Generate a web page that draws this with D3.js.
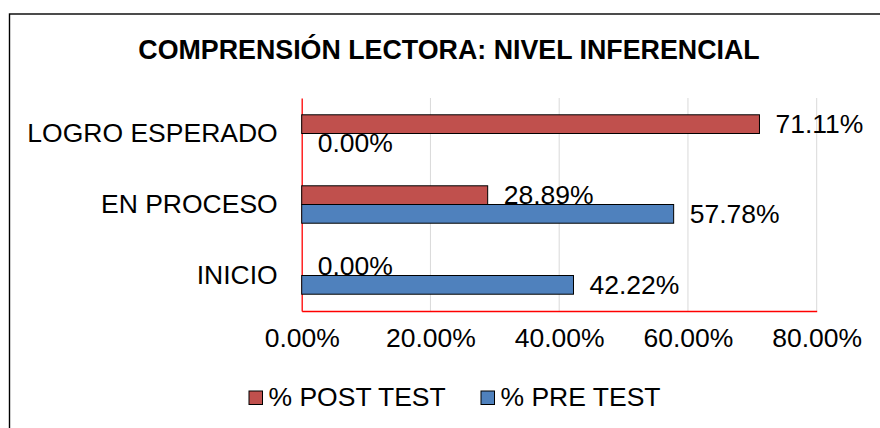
<!DOCTYPE html>
<html>
<head>
<meta charset="utf-8">
<script src="https://cdn.jsdelivr.net/npm/d3@7"></script>
<style>
  body { margin: 0; background: #fff; }
  svg { display: block; font-family: 'Liberation Sans', Arial, sans-serif; }
</style>
</head>
<body>
<script>
// chart data
const categories = ['LOGRO ESPERADO', 'EN PROCESO', 'INICIO'];
const seriesNames = ['% POST TEST', '% PRE TEST'];
const postTest = [0.7111, 0.2889, 0];
const preTest = [0, 0.5778, 0.4222];
const xTicks = [0, 0.2, 0.4, 0.6, 0.8];
const colors = ['#c0504d', '#4f81bd'];

const width = 880;
const height = 428;
const fontSize = 26.5;

const svg = d3.select('body').append('svg')
  .attr('width', width)
  .attr('height', height);

// chart border (runs past the window on right and bottom)
svg.append('rect')
  .attr('x', 9.5)
  .attr('y', 14)
  .attr('width', 900)
  .attr('height', 440)
  .attr('fill', 'none')
  .attr('stroke', '#000')
  .attr('stroke-width', 1.4);

svg.append('text')
  .attr('x', 449)
  .attr('y', 59)
  .attr('text-anchor', 'middle')
  .style('font-size', '26.8px')
  .style('font-weight', 'bold')
  .text('COMPRENSIÓN LECTORA: NIVEL INFERENCIAL');

const x = d3.scaleLinear()
  .domain([0, 0.8])
  .range([301.7, 816.7]);

const y = d3.scaleBand()
  .domain(categories)
  .range([98, 311])
  .paddingInner(0.473)
  .paddingOuter(0.2365);

const ySub = d3.scaleBand()
  .domain(seriesNames)
  .range([0, y.bandwidth()]);

const fmt = d3.format('.2%');

// gridlines
svg.append('g')
  .selectAll('line')
  .data(xTicks.slice(1))
  .enter()
  .append('line')
  .attr('x1', d => x(d))
  .attr('x2', d => x(d))
  .attr('y1', 98)
  .attr('y2', 311)
  .attr('stroke', '#d9d9d9')
  .attr('stroke-width', 1);

// x axis labels
const xAxis = svg.append('g')
  .attr('transform', 'translate(0,311)')
  .call(d3.axisBottom(x).tickValues(xTicks).tickFormat(fmt).tickSize(0).tickPadding(17));
xAxis.select('.domain').attr('stroke', '#ff0000').attr('stroke-width', 1.3);
xAxis.selectAll('text')
  .style('font-size', `${fontSize}px`)
  .attr('fill', '#000')
  .attr('font-family', null);

// y axis
const yAxis = svg.append('g')
  .attr('transform', 'translate(301.7,0)')
  .call(d3.axisLeft(y).tickSize(0).tickPadding(24));
yAxis.select('.domain').attr('stroke', '#ff0000').attr('stroke-width', 1.3);
yAxis.selectAll('text')
  .style('font-size', `${fontSize}px`)
  .attr('fill', '#000')
  .attr('font-family', null);

const rows = categories.map((c, i) => ({
  category: c,
  values: [
    { name: seriesNames[0], value: postTest[i], color: colors[0] },
    { name: seriesNames[1], value: preTest[i], color: colors[1] },
  ],
}));

const groups = svg.append('g')
  .selectAll('g')
  .data(rows)
  .enter()
  .append('g')
  .attr('transform', d => `translate(0,${y(d.category)})`);

// data labels first, bars drawn over them as in the source chart
groups.selectAll('text')
  .data(d => d.values)
  .enter()
  .append('text')
  .attr('x', d => x(d.value) + 16)
  .attr('y', d => ySub(d.name) + ySub.bandwidth() / 2)
  .attr('dy', '0.35em')
  .style('font-size', `${fontSize}px`)
  .text(d => fmt(d.value));

groups.selectAll('rect')
  .data(d => d.values.filter(v => v.value > 0))
  .enter()
  .append('rect')
  .attr('x', x(0))
  .attr('y', d => ySub(d.name))
  .attr('width', d => x(d.value) - x(0))
  .attr('height', ySub.bandwidth())
  .attr('fill', d => d.color)
  .attr('stroke', '#000')
  .attr('stroke-width', 1);

// legend
const legendX = [249, 481];
const legend = svg.append('g')
  .selectAll('g')
  .data(seriesNames)
  .enter()
  .append('g')
  .attr('transform', (d, i) => `translate(${legendX[i]},391)`);

legend.append('rect')
  .attr('width', 13.5)
  .attr('height', 13.5)
  .attr('fill', (d, i) => colors[i])
  .attr('stroke', '#000')
  .attr('stroke-width', 1);

legend.append('text')
  .attr('x', 19.5)
  .attr('y', 15)
  .style('font-size', `${fontSize}px`)
  .text(d => d);
</script>
</body>
</html>
